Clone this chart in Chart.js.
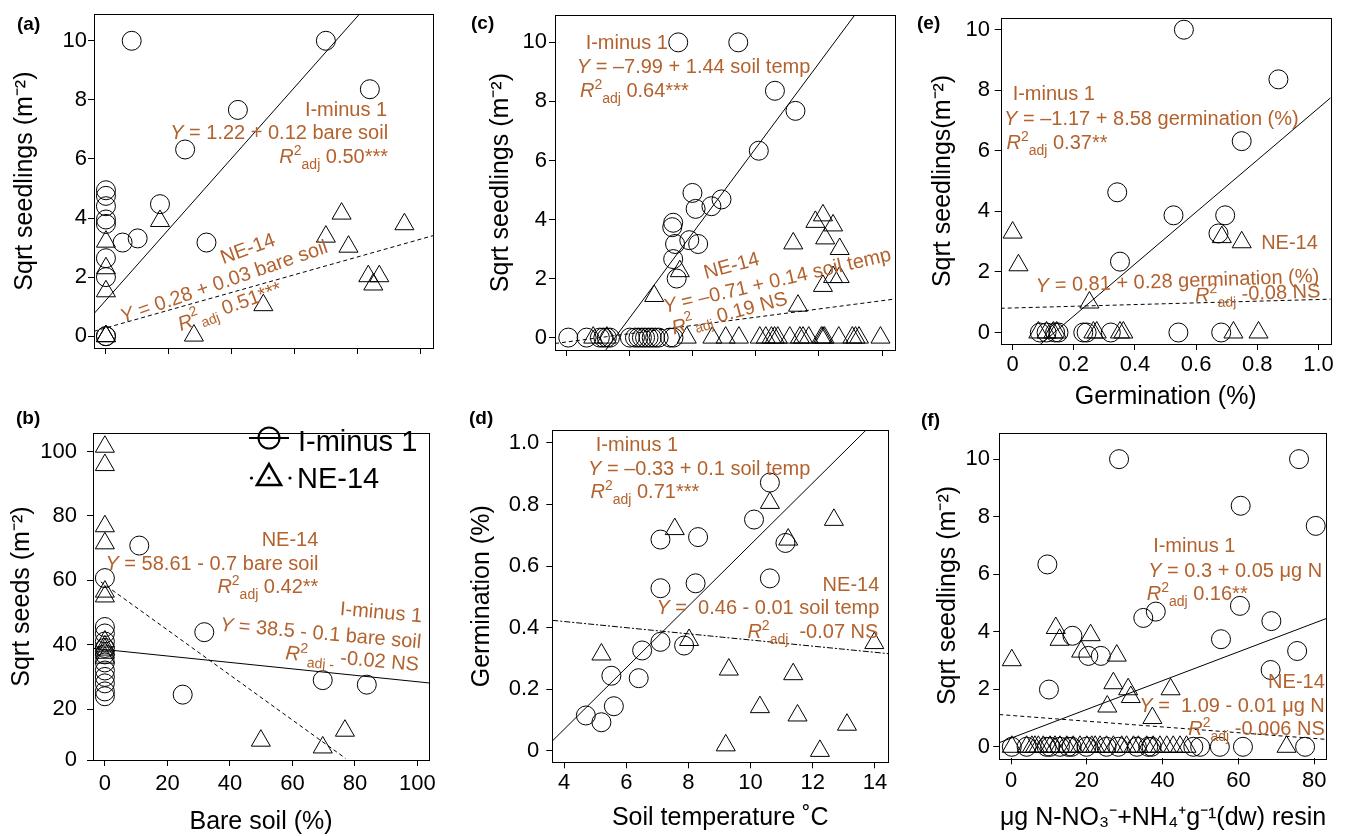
<!DOCTYPE html>
<html>
<head>
<meta charset="utf-8">
<script src="https://cdn.jsdelivr.net/npm/chart.js@4.4.1/dist/chart.umd.min.js"></script>
<style>
  body { margin: 0; background: #fff; width: 1348px; height: 836px; position: relative; overflow: hidden; font-family: "Liberation Sans", Arial, sans-serif; }
  canvas { position: absolute; }
  .lab { position: absolute; font-weight: bold; font-size: 19px; line-height: 20px; color: #000; }
</style>
</head>
<body>
<canvas id="pa" width="450" height="400" style="left:0;top:0"></canvas>
<canvas id="pc" width="460" height="400" style="left:450px;top:0"></canvas>
<canvas id="pe" width="438" height="410" style="left:910px;top:0"></canvas>
<canvas id="pb" width="450" height="426" style="left:0;top:410px"></canvas>
<canvas id="pd" width="460" height="426" style="left:450px;top:410px"></canvas>
<canvas id="pf" width="438" height="426" style="left:910px;top:410px"></canvas>
<div class="lab" style="left:17px;top:14px">(a)</div>
<div class="lab" style="left:471px;top:13px">(c)</div>
<div class="lab" style="left:917px;top:13px">(e)</div>
<div class="lab" style="left:16px;top:408px">(b)</div>
<div class="lab" style="left:469px;top:408px">(d)</div>
<div class="lab" style="left:921px;top:410px">(f)</div>
<script>
// (a) bare soil (%) vs sqrt seedlings
const aIminusX = [8.2, 70, 84, 42, 25.2, 0, 0, 0, 0, 0, 17.2, 5.3, 10.1, 32, 0, 0, 0, 0];
const aIminusY = [10, 10, 8.36, 7.66, 6.32, 4.94, 4.75, 4.4, 3.95, 3.8, 4.47, 3.17, 3.31, 3.17, 2.64, 2.0, 0, 0];
const aNe14X = [17.2, 0, 0, 0, 0, 0, 28, 50.1, 70, 75, 77.2, 83.5, 85.1, 87, 95];
const aNe14Y = [3.9, 3.2, 2.3, 1.52, 0, 0, 0.02, 1.05, 3.37, 4.15, 3.03, 2.03, 1.75, 2.03, 3.79];
const aIminusFit = [1.22, 0.12];
const aNe14Fit = [0.28, 0.03];
const aXTicks = [0, 20, 40, 60, 80, 100];
const aYTicks = [0, 2, 4, 6, 8, 10];

// (b) bare soil (%) vs sqrt seeds
const bIminusX = [11, 0, 31.8, 24.9, 69.7, 83.8, 0, 0, 0, 0, 0, 0, 0, 0, 0, 0, 0];
const bIminusY = [70.8, 60.7, 43.9, 24.5, 29.0, 27.6, 45.5, 43.5, 41, 39, 37, 34.5, 32, 30, 28, 25.5, 24];
const bNe14X = [0, 0, 0, 0, 0, 0, 0, 0, 0, 0, 0, 49.9, 69.7, 76.8];
const bNe14Y = [101.5, 95.8, 76.8, 71.5, 56.5, 55, 41, 39.5, 38.5, 37.5, 36, 10.2, 8.1, 13.3];
const bIminusFit = [38.5, -0.1];
const bNe14Fit = [58.61, -0.7];
const bNe14Span = [-1.3, 77];
const bXTicks = [0, 20, 40, 60, 80, 100];
const bYTicks = [4.2, 20, 40, 60, 80, 100];
const bYLabels = ['0', '20', '40', '60', '80', '100'];

// (c) soil temperature vs sqrt seedlings
const cIminusX = [7.55, 9.45, 10.61, 11.26, 10.1, 8.0, 8.1, 8.6, 8.92, 7.39, 7.36, 7.45, 7.9, 8.18, 7.39, 7.5,
  4.07, 4.65, 5.07, 5.18, 5.29, 5.39, 6.02, 6.18, 6.29, 6.4, 6.5, 6.61, 6.71, 6.82, 6.93, 7.29, 7.4];
const cIminusY = [10, 10, 8.36, 7.68, 6.33, 4.9, 4.36, 4.45, 4.68, 3.89, 3.74, 3.17, 3.3, 3.17, 2.66, 2.0,
  0, 0, 0, 0, 0, 0, 0, 0, 0, 0, 0, 0, 0, 0, 0, 0, 0];
const cNe14X = [6.79, 7.6, 11.19, 11.34, 11.89, 12.13, 12.45, 12.2, 12.66, 12.13, 12.45, 12.66,
  4.86, 5.29, 7.82, 8.63, 9.05, 9.47, 10.13, 10.32, 10.5, 10.6, 10.7, 11.08, 11.4, 11.5, 11.68, 12.08, 12.13, 12.18, 12.63, 13.06, 13.16, 13.27, 13.95];
const cNe14Y = [1.41, 2.25, 3.19, 1.08, 3.92, 4.14, 3.8, 3.36, 3.0, 1.75, 2.05, 2.05,
  0, 0, 0, 0, 0, 0, 0, 0, 0, 0, 0, 0, 0, 0, 0, 0, 0, 0, 0, 0, 0, 0, 0];
const cIminusFit = [-7.99, 1.44];
const cNe14Fit = [-0.71, 0.14];
const cXTicks = [4, 6, 8, 10, 12, 14];
const cYTicks = [0, 2, 4, 6, 8, 10];

// (d) soil temperature vs germination
const dIminusX = [10.62, 10.11, 11.12, 10.62, 7.1, 8.31, 7.1, 8.23, 7.1, 7.86, 6.51, 5.52, 6.4, 5.6, 4.7, 5.2];
const dIminusY = [0.871, 0.751, 0.675, 0.56, 0.686, 0.694, 0.528, 0.544, 0.354, 0.342, 0.326, 0.244, 0.236, 0.145, 0.115, 0.093];
const dNe14X = [10.62, 7.56, 12.68, 11.21, 8.02, 5.2, 9.3, 11.37, 13.98, 10.3, 11.51, 13.1, 9.2, 12.23];
const dNe14Y = [0.805, 0.72, 0.75, 0.686, 0.36, 0.313, 0.264, 0.249, 0.35, 0.142, 0.115, 0.085, 0.018, 0.0];
const dIminusFit = [-0.33, 0.1];
const dNe14Fit = [0.46, -0.01];
const dXTicks = [4, 6, 8, 10, 12, 14];
const dYTicks = [0, 0.2, 0.4, 0.6, 0.8, 1.0];
const dYLabels = ['0', '0.2', '0.4', '0.6', '0.8', '1.0'];

// (e) germination vs sqrt seedlings
const eIminusX = [0.56, 0.869, 0.749, 0.342, 0.526, 0.695, 0.673, 0.351, 0.089, 0.111, 0.139, 0.15, 0.231, 0.242, 0.321, 0.542, 0.682];
const eIminusY = [10, 8.36, 6.32, 4.63, 3.87, 3.87, 3.27, 2.34, 0, 0, 0, 0, 0, 0, 0, 0, 0];
const eNe14X = [0, 0.019, 0.251, 0.684, 0.749, 0.084, 0.111, 0.133, 0.144, 0.264, 0.275, 0.351, 0.362, 0.722, 0.804];
const eNe14Y = [3.3, 2.22, 0.99, 3.15, 2.98, 0, 0, 0, 0, 0, 0, 0, 0, 0, 0];
const eIminusFit = [-1.17, 8.58];
const eNe14Fit = [0.81, 0.28];
const eXTicks = [0, 0.2, 0.4, 0.6, 0.8, 1.0];
const eXLabels = ['0', '0.2', '0.4', '0.6', '0.8', '1.0'];
const eYTicks = [0, 2, 4, 6, 8, 10];

// (f) resin N vs sqrt seedlings
const fIminusX = [28.5, 76, 60.6, 80.4, 9.58, 60.4, 34.9, 38.2, 68.7, 55.4, 75.5, 68.5, 16.2, 20.4, 23.7, 10,
  0.2, 4.1, 9.4, 10.3, 12.9, 15.1, 16.0, 19.9, 25.2, 28.3, 33.2, 36.2, 37.1, 48.1, 49.9, 55.1, 61.2, 77.6];
const fIminusY = [10, 10, 8.38, 7.68, 6.34, 4.9, 4.48, 4.7, 4.37, 3.74, 3.33, 2.67, 3.86, 3.16, 3.16, 1.99,
  0, 0, 0, 0, 0, 0, 0, 0, 0, 0, 0, 0, 0, 0, 0, 0, 0, 0];
const fNe14X = [0.2, 11.8, 12.8, 21, 18.5, 27.9, 27, 30.9, 31.6, 42.1, 25.4, 37.3, 72.7,
  0.2, 4.1, 5.5, 6.3, 7.2, 8.5, 10.3, 11.6, 12.9, 14.7, 16.4, 18.2, 20, 21.3, 22.2, 23.5, 25.2, 27, 29.2, 30.5, 32.3, 33.6, 35.8, 37.5, 39.3, 41.1, 42.8, 44.6, 46.3];
const fNe14Y = [3.01, 4.13, 3.72, 3.88, 3.31, 3.17, 2.21, 2.0, 1.73, 2.0, 1.4, 1.0, 0,
  0, 0, 0, 0, 0, 0, 0, 0, 0, 0, 0, 0, 0, 0, 0, 0, 0, 0, 0, 0, 0, 0, 0, 0, 0, 0, 0, 0, 0];
const fIminusFit = [0.3, 0.05];
const fNe14Fit = [1.09, -0.01];
const fXTicks = [0, 20, 40, 60, 80];
const fYTicks = [0, 2, 4, 6, 8, 10];

const FAMILY = '"Liberation Sans", Arial, sans-serif';
const INK = '#000';
const BROWN = '#b3622d';
const TICK_SIZE = 22;
const TITLE_SIZE = 25;
const NOTE_SIZE = 20;

Chart.defaults.font.family = FAMILY;

function pts(xs, ys) { return xs.map((x, i) => ({ x: x, y: ys[i] })); }
function fitLine(coef, span) { return span.map(x => ({ x: x, y: coef[0] + coef[1] * x })); }

// rich text pieces: [text, kind] kind = '' | 'i' | 'sup' | 'sub'
function eq(rest) { return [['Y', 'i'], [rest, '']]; }
function r2(rest, sub) { return [['R', 'i'], ['2', 'sup'], [sub || 'adj', 'sub'], [rest, '']]; }
function plain(t) { return [[t, '']]; }

function fontFor(kind, size) {
  const s = (kind === 'sup' || kind === 'sub') ? Math.round(size * 0.68) : size;
  return (kind === 'i' ? 'italic ' : '') + s + 'px ' + FAMILY;
}

function drawRich(ctx, parts, x, y, align, rot, mid, size) {
  let w = 0;
  parts.forEach(p => { ctx.font = fontFor(p[1], size); w += ctx.measureText(p[0]).width; });
  ctx.save();
  ctx.translate(x, y);
  ctx.rotate((rot || 0) * Math.PI / 180);
  ctx.fillStyle = BROWN;
  ctx.textBaseline = mid ? 'middle' : 'alphabetic';
  ctx.textAlign = 'left';
  let cx = align === 'right' ? -w : (align === 'center' ? -w / 2 : 0);
  parts.forEach(p => {
    ctx.font = fontFor(p[1], size);
    const dy = p[1] === 'sup' ? -size * 0.4 : (p[1] === 'sub' ? size * 0.3 : 0);
    ctx.fillText(p[0], cx, dy);
    cx += ctx.measureText(p[0]).width;
  });
  ctx.restore();
}

// legend of panel (b), canvas coordinates
function drawLegend(ctx) {
  ctx.save();
  ctx.strokeStyle = INK;
  ctx.fillStyle = INK;
  ctx.lineWidth = 2;
  ctx.beginPath(); ctx.moveTo(249, 28); ctx.lineTo(289, 28); ctx.stroke();
  ctx.beginPath(); ctx.arc(269, 28, 10.5, 0, Math.PI * 2); ctx.stroke();
  const r = 14, cx = 269, cy = 68;
  ctx.lineWidth = 2.5;
  ctx.beginPath();
  ctx.moveTo(cx, cy - r);
  ctx.lineTo(cx + r * Math.sin(2 * Math.PI / 3), cy - r * Math.cos(2 * Math.PI / 3));
  ctx.lineTo(cx - r * Math.sin(2 * Math.PI / 3), cy - r * Math.cos(2 * Math.PI / 3));
  ctx.closePath();
  ctx.stroke();
  [251.5, 269, 290].forEach(dx => { ctx.beginPath(); ctx.arc(dx, cy, 1.6, 0, Math.PI * 2); ctx.fill(); });
  ctx.font = '29px ' + FAMILY;
  ctx.textBaseline = 'middle';
  ctx.fillText('I-minus 1', 298, 33);
  ctx.fillText('NE-14', 297, 70);
  ctx.restore();
}

const notesPlugin = {
  id: 'notes',
  afterDraw(chart, args, opts) {
    const ctx = chart.ctx;
    const a = chart.chartArea;
    const xs = chart.scales.x, ys = chart.scales.y;
    ctx.save();
    ctx.strokeStyle = INK;
    ctx.lineWidth = 1;
    ctx.strokeRect(Math.round(a.left) + 0.5, Math.round(a.top) + 0.5, Math.round(a.right - a.left), Math.round(a.bottom - a.top));
    (opts.items || []).forEach(n => {
      drawRich(ctx, n.parts, xs.getPixelForValue(n.at[0]), ys.getPixelForValue(n.at[1]), n.align, n.rot, n.mid, NOTE_SIZE);
    });
    if (opts.legend) drawLegend(ctx);
    ctx.restore();
  }
};

function axis(p, horiz) {
  const o = horiz ? p.xAxis : p.yAxis;
  const cfg = {
    type: 'linear',
    min: o.min,
    max: o.max,
    afterBuildTicks: s => { s.ticks = o.ticks.map(v => ({ value: v })); },
    grid: { display: true, drawOnChartArea: false, drawTicks: true, tickLength: 6, tickColor: INK, tickWidth: 1 },
    border: { display: false },
    ticks: {
      display: o.showLabels !== false,
      color: INK,
      font: { size: TICK_SIZE, lineHeight: 1.2 },
      padding: o.pad,
      autoSkip: false,
      maxRotation: 0,
      callback: (v, i) => (o.labels ? o.labels[i] : String(v))
    },
    title: {
      display: !!o.title,
      text: o.title || '',
      color: INK,
      font: { size: TITLE_SIZE, lineHeight: 1 },
      padding: horiz ? { top: 0, bottom: o.titlePad } : { top: o.titlePad, bottom: 0 }
    }
  };
  if (horiz) cfg.afterFit = s => { s.height = o.size; };
  else cfg.afterFit = s => { s.width = o.size; };
  return cfg;
}

function makePanel(id, p) {
  const marker = { backgroundColor: 'rgba(0,0,0,0)', borderColor: INK, borderWidth: 1, clip: false, pointHoverRadius: 0 };
  const datasets = [
    Object.assign({ data: pts(p.ix, p.iy), pointStyle: 'circle', pointRadius: 9.5 }, marker),
    Object.assign({ data: pts(p.tx, p.ty), pointStyle: 'triangle', pointRadius: 11 }, marker),
    { data: fitLine(p.ifit, p.ispan), showLine: true, pointRadius: 0, borderColor: INK, borderWidth: 1, fill: false },
    { data: fitLine(p.tfit, p.tspan), showLine: true, pointRadius: 0, borderColor: INK, borderWidth: 1, fill: false, borderDash: p.dash || [4, 3] }
  ];
  new Chart(document.getElementById(id), {
    type: 'scatter',
    data: { datasets: datasets },
    options: {
      responsive: false,
      animation: false,
      devicePixelRatio: 1,
      events: [],
      layout: { padding: { left: 0, top: p.padTop, right: p.padRight, bottom: 0 } },
      plugins: { legend: { display: false }, tooltip: { enabled: false }, notes: { items: p.notes, legend: !!p.legend } },
      scales: { x: axis(p, true), y: axis(p, false) }
    },
    plugins: [notesPlugin]
  });
}

makePanel('pa', {
  ix: aIminusX, iy: aIminusY, tx: aNe14X, ty: aNe14Y,
  ifit: aIminusFit, ispan: [-3.8, 104.1], tfit: aNe14Fit, tspan: [-3.8, 104.1],
  padTop: 10, padRight: 17,
  xAxis: { min: -3.8, max: 104.1, ticks: aXTicks, showLabels: false, pad: 0, size: 52 },
  yAxis: { min: -0.4, max: 10.9, ticks: aYTicks, pad: 1, size: 94, title: 'Sqrt seedlings (m⁻²)', titlePad: 13 },
  notes: [
    { at: [89.5, 7.47], align: 'right', parts: plain('I-minus 1') },
    { at: [89.8, 6.67], align: 'right', parts: eq(' = 1.22 + 0.12 bare soil') },
    { at: [89.8, 5.85], align: 'right', parts: r2(' 0.50***') },
    { at: [45.2, 2.94], align: 'center', mid: true, rot: -20, parts: plain('NE-14') },
    { at: [37.6, 1.82], align: 'center', mid: true, rot: -19, parts: eq(' = 0.28 + 0.03 bare soil') },
    { at: [39.5, 0.98], align: 'center', mid: true, rot: -20, parts: r2(' 0.51***') }
  ]
});

makePanel('pb', {
  ix: bIminusX, iy: bIminusY, tx: bNe14X, ty: bNe14Y,
  ifit: bIminusFit, ispan: [-3.8, 103.7], tfit: bNe14Fit, tspan: bNe14Span,
  padTop: 13, padRight: 21, legend: true,
  xAxis: { min: -3.8, max: 103.7, ticks: bXTicks, pad: 5, size: 76, title: 'Bare soil (%)', titlePad: 1 },
  yAxis: { min: 4.2, max: 105.7, ticks: bYTicks, labels: bYLabels, pad: 10, size: 93, title: 'Sqrt seeds (m⁻²)', titlePad: 9.7 },
  notes: [
    { at: [68.3, 70.8], align: 'right', parts: plain('NE-14') },
    { at: [68.3, 63.3], align: 'right', parts: eq(' = 58.61 - 0.7 bare soil') },
    { at: [68.3, 56], align: 'right', parts: r2(' 0.42**') },
    { at: [101.3, 47], align: 'right', rot: 5, parts: plain('I-minus 1') },
    { at: [101, 38.9], align: 'right', rot: 5, parts: eq(' = 38.5 - 0.1 bare soil') },
    { at: [100.3, 31.9], align: 'right', rot: 5, parts: r2(' -0.02 NS', 'adj -') }
  ]
});

makePanel('pc', {
  ix: cIminusX, iy: cIminusY, tx: cNe14X, ty: cNe14Y,
  ifit: cIminusFit, ispan: [3.65, 14.41], tfit: cNe14Fit, tspan: [3.65, 14.41],
  padTop: 10, padRight: 15,
  xAxis: { min: 3.65, max: 14.41, ticks: cXTicks, showLabels: false, pad: 0, size: 50 },
  yAxis: { min: -0.42, max: 10.92, ticks: cYTicks, pad: 2, size: 105, title: 'Sqrt seedlings (m⁻²)', titlePad: 39 },
  notes: [
    { at: [4.62, 9.76], align: 'left', parts: plain('I-minus 1') },
    { at: [4.34, 8.96], align: 'left', parts: eq(' = –7.99 + 1.44 soil temp') },
    { at: [4.44, 8.14], align: 'left', parts: r2(' 0.64***') },
    { at: [9.24, 2.41], align: 'center', mid: true, rot: -15, parts: plain('NE-14') },
    { at: [10.68, 1.91], align: 'center', mid: true, rot: -13, parts: eq(' = –0.71 + 0.14 soil temp') },
    { at: [9.18, 0.8], align: 'center', mid: true, rot: -15, parts: r2(' 0.19 NS') }
  ]
});

makePanel('pd', {
  ix: dIminusX, iy: dIminusY, tx: dNe14X, ty: dNe14Y,
  ifit: dIminusFit, ispan: [3.62, 14.43], tfit: dNe14Fit, tspan: [3.62, 14.43], dash: [6, 2, 2, 2],
  padTop: 17.3, padRight: 21.7,
  xAxis: { min: 3.62, max: 14.43, ticks: dXTicks, pad: 1.3, size: 73.7, title: 'Soil temperature ˚C', titlePad: 5.7 },
  yAxis: { min: -0.037, max: 1.041, ticks: dYTicks, labels: dYLabels, pad: 7, size: 102.3, title: 'Germination (%)', titlePad: 19.7 },
  notes: [
    { at: [5.02, 0.975], align: 'left', parts: plain('I-minus 1') },
    { at: [4.77, 0.896], align: 'left', parts: eq(' = –0.33 + 0.1 soil temp') },
    { at: [4.85, 0.82], align: 'left', parts: r2(' 0.71***') },
    { at: [14.14, 0.52], align: 'right', parts: plain('NE-14') },
    { at: [14.14, 0.444], align: 'right', parts: eq(' =  0.46 - 0.01 soil temp') },
    { at: [14.11, 0.365], align: 'right', parts: r2('  -0.07 NS') }
  ]
});

makePanel('pe', {
  ix: eIminusX, iy: eIminusY, tx: eNe14X, ty: eNe14Y,
  ifit: eIminusFit, ispan: [-0.039, 1.04], tfit: eNe14Fit, tspan: [-0.039, 1.04],
  padTop: 14.7, padRight: 17.3,
  xAxis: { min: -0.039, max: 1.04, ticks: eXTicks, labels: eXLabels, pad: 1.3, size: 66, title: 'Germination (%)', titlePad: 0 },
  yAxis: { min: -0.38, max: 10.39, ticks: eYTicks, pad: 4.7, size: 90.7, title: 'Sqrt seedlings(m⁻²)', titlePad: 20.5 },
  notes: [
    { at: [0.0, 7.69], align: 'left', parts: plain('I-minus 1') },
    { at: [-0.028, 6.86], align: 'left', parts: eq(' = –1.17 + 8.58 germination (%)') },
    { at: [-0.02, 6.07], align: 'left', parts: r2(' 0.37**') },
    { at: [0.998, 2.75], align: 'right', parts: plain('NE-14') },
    { at: [1.003, 1.66], align: 'right', rot: -2, parts: eq(' = 0.81 + 0.28 germination (%)') },
    { at: [1.007, 1.16], align: 'right', rot: -2, parts: r2(' -0.08 NS') }
  ]
});

makePanel('pf', {
  ix: fIminusX, iy: fIminusY, tx: fNe14X, ty: fNe14Y,
  ifit: fIminusFit, ispan: [-3.1, 83.3], tfit: fNe14Fit, tspan: [-3.1, 83.3],
  padTop: 22.7, padRight: 21.3,
  xAxis: { min: -3.1, max: 83.3, ticks: fXTicks, pad: 3.5, size: 77.7, title: 'μg N-NO₃⁻+NH₄⁺g⁻¹(dw) resin', titlePad: 5.7 },
  yAxis: { min: -0.4, max: 10.92, ticks: fYTicks, pad: 3.3, size: 89.3, title: 'Sqrt seedlings (m⁻²)', titlePad: 26 },
  notes: [
    { at: [37.5, 6.78], align: 'left', parts: plain('I-minus 1') },
    { at: [36.2, 5.91], align: 'left', parts: eq(' = 0.3 + 0.05 μg N') },
    { at: [35.8, 5.1], align: 'left', parts: r2(' 0.16**') },
    { at: [82.8, 2.06], align: 'right', parts: plain('NE-14') },
    { at: [82.8, 1.22], align: 'right', parts: eq(' =  1.09 - 0.01 μg N') },
    { at: [82.8, 0.41], align: 'right', parts: r2(' -0.006 NS') }
  ]
});
</script>
</body>
</html>
